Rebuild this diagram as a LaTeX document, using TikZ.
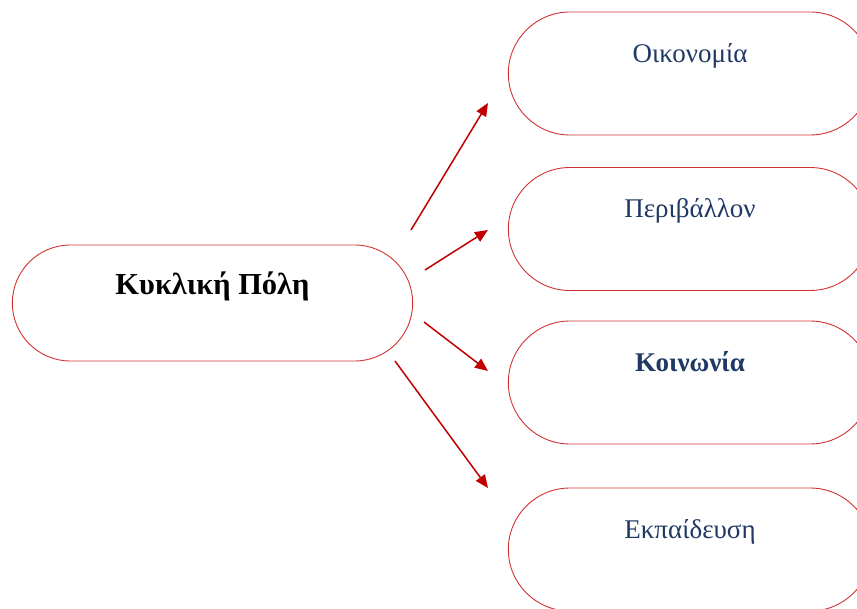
\documentclass[tikz,border=0pt]{standalone}
\usepackage{fontspec}
\setmainfont{Liberation Serif}
\usetikzlibrary{shapes.misc, arrows.meta, positioning}
\definecolor{boxred}{RGB}{210,50,50}
\definecolor{arrowred}{RGB}{192,0,0}
\definecolor{navyblue}{RGB}{31,56,100}
\tikzset {
    x=1pt, y=-1pt,
    pill/.style={rounded rectangle, draw=boxred, line width=0.9pt, text height=20pt},
    topic/.style={pill, minimum width=370pt, minimum height=123pt, text depth=42pt,
        font=\fontsize{27}{31}\selectfont, text=navyblue},
    link/.style={-{Triangle[length=13pt,width=11pt]}, draw=arrowred, line width=1.5pt}
}
\begin{document}
\begin{tikzpicture}
    \useasboundingbox (0,0) rectangle (857,609);
    \clip (0,0) rectangle (857,609);

    \node[pill, minimum width=407pt, minimum height=116pt, text depth=36pt,
        font=\bfseries\fontsize{30.5}{34}\selectfont] (city) at (212.5,303) {Κυκλική Πόλη};

    \node[topic] (econ) at (690,73.5) {Οικονομία};
    \node[topic] (env) at (690,229) {Περιβάλλον};
    \node[topic, font=\bfseries\fontsize{27}{31}\selectfont] (soc) at (690,382.5) {Κοινωνία};
    \node[topic] (edu) at (690,549.5) {Εκπαίδευση};

    % free arrow ends
    \coordinate (s1) at (411,230);
    \coordinate (s2) at (425,270);
    \coordinate (s3) at (424,322);
    \coordinate (s4) at (395,361);
    \coordinate (t1) at (488,103);
    \coordinate (t2) at (488,230);
    \coordinate (t3) at (488,371);
    \coordinate (t4) at (488,488);

    \draw[link] (s1) -- (t1);
    \draw[link] (s2) -- (t2);
    \draw[link] (s3) -- (t3);
    \draw[link] (s4) -- (t4);
\end{tikzpicture}
\end{document}
